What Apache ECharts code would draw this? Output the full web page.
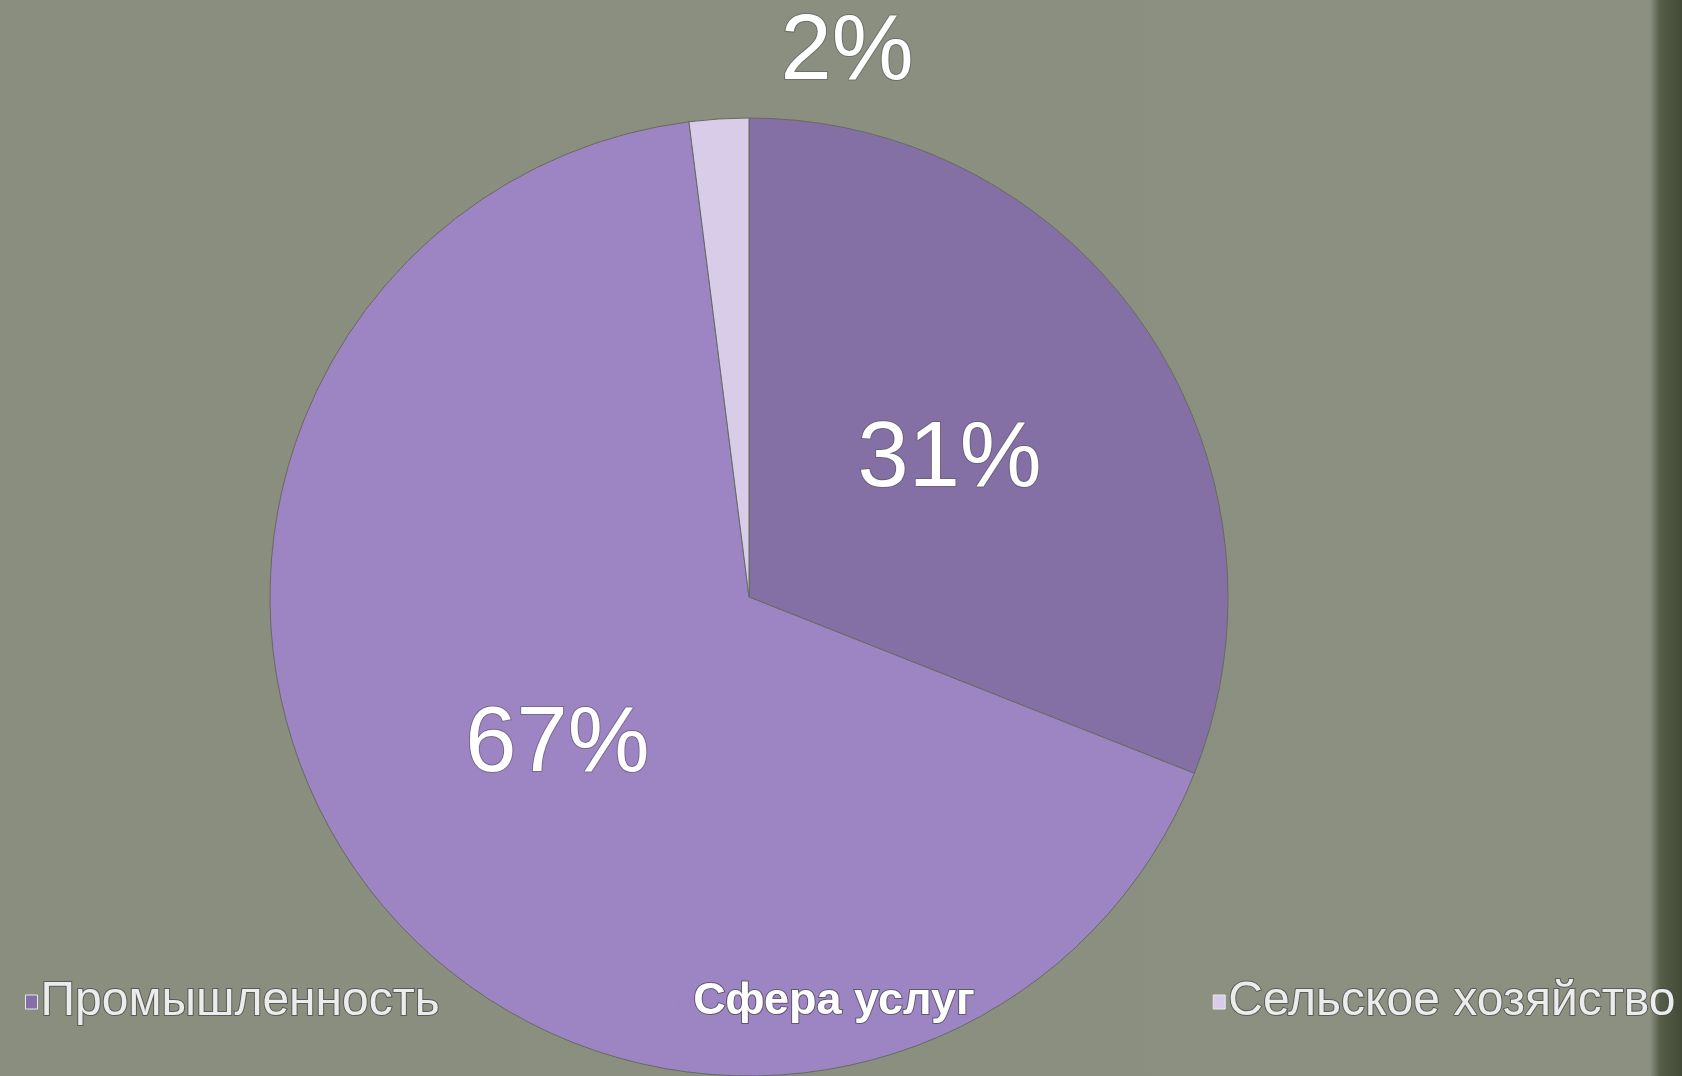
<!DOCTYPE html>
<html>
<head>
<meta charset="utf-8">
<script src="https://cdn.jsdelivr.net/npm/echarts@6/dist/echarts.min.js"></script>
<style>
html,body{margin:0;padding:0;width:1682px;height:1076px;overflow:hidden;}
body{background:linear-gradient(to right,#898e7e 0%,#8a8f80 50%,#8b9081 98.1%,#555d49 98.7%,#434b38 100%);}
#chart{width:1682px;height:1076px;}
</style>
</head>
<body>
<div id="chart"></div>
<script>
const categories = ['Промышленность', 'Сфера услуг', 'Сельское хозяйство'];
const values = [31, 67, 2];
const colors = ['#8570a6', '#9d84c3', '#d9cce9'];

const chart = echarts.init(document.getElementById('chart'));
const data = categories.map((name, i) => {
  const item = { name: name, value: values[i], itemStyle: { color: colors[i] } };
  if (i === 2) {
    item.label = { position: 'outside' };
  }
  return item;
});

chart.setOption({
  backgroundColor: 'transparent',
  animation: false,
  legend: {
    data: categories.map((name, i) => i === 1
      ? { name: name, itemStyle: { color: colors[1], borderColor: colors[1] }, textStyle: { fontWeight: 'bold', color: '#ffffff', fontSize: 45 } }
      : { name: name }),
    orient: 'horizontal',
    left: 20,
    top: 972,
    itemGap: 237,
    itemWidth: 12,
    itemHeight: 14,
    icon: 'rect',
    selectedMode: false,
    itemStyle: { borderColor: '#e8e8e8', borderWidth: 1 },
    textStyle: {
      fontFamily: 'Liberation Sans, Arial, sans-serif',
      fontSize: 48,
      color: '#ececec',
      textBorderColor: 'rgba(70,70,70,0.7)',
      textBorderWidth: 2,
      padding: [0, 0, 0, -2],
      lineHeight: 48
    }
  },
  series: [{
    type: 'pie',
    center: [749, 597],
    radius: [0, 479],
    startAngle: 90,
    clockwise: true,
    avoidLabelOverlap: false,
    itemStyle: { borderColor: '#666a60', borderWidth: 1 },
    emphasis: { disabled: true },
    label: {
      show: true,
      position: 'inside',
      formatter: '{c}%',
      fontFamily: 'Liberation Sans, Arial, sans-serif',
      fontSize: 92,
      color: '#ffffff',
      textBorderColor: 'rgba(80,80,80,0.5)',
      textBorderWidth: 2
    },
    labelLine: { show: false },
    labelLayout: function (params) {
      if (params.dataIndex === 2) {
        return { x: 847, y: 54, align: 'center', verticalAlign: 'middle' };
      }
      return {};
    },
    data: data
  }]
});
</script>
</body>
</html>
